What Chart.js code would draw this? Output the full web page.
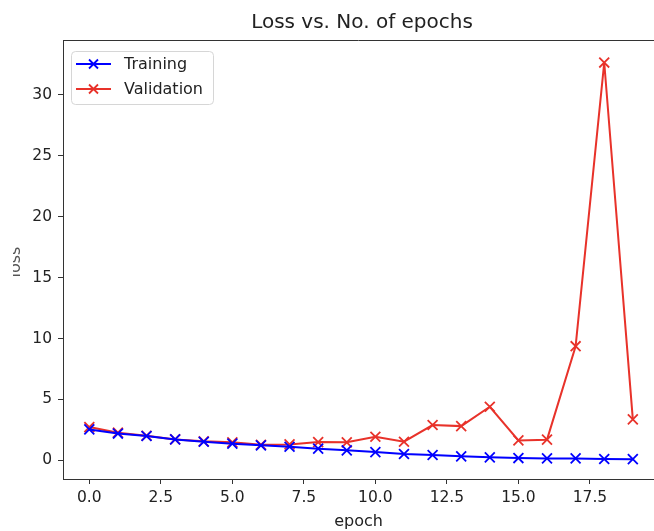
<!DOCTYPE html>
<html>
<head>
<meta charset="utf-8">
<script src="https://cdn.jsdelivr.net/npm/chart.js@4"></script>
<style>
  html, body { margin: 0; padding: 0; background: #fff; }
  #wrap { width: 654px; height: 531px; }
</style>
</head>
<body>
<div id="wrap"><canvas id="lossChart" width="654" height="531"></canvas></div>
<script>
// ================= DATA =================
const epochs = [0, 1, 2, 3, 4, 5, 6, 7, 8, 9, 10, 11, 12, 13, 14, 15, 16, 17, 18, 19];
const trainLoss = [2.54, 2.2, 2.0, 1.72, 1.53, 1.37, 1.23, 1.12, 0.96, 0.82, 0.68, 0.52, 0.44, 0.33, 0.25, 0.19, 0.16, 0.16, 0.11, 0.1];
const valLoss = [2.73, 2.27, 2.02, 1.72, 1.56, 1.48, 1.28, 1.31, 1.5, 1.48, 1.94, 1.53, 2.9, 2.81, 4.4, 1.64, 1.7, 9.37, 32.65, 3.36];
const xTicks = [0, 2.5, 5, 7.5, 10, 12.5, 15, 17.5];
const yTicks = [0, 5, 10, 15, 20, 25, 30];
const seriesNames = ['Training', 'Validation'];
const seriesColors = ['#0000ff', '#e8322a'];

const FONT = "'DejaVu Sans', sans-serif";
const TEXT = '#222';

function toPoints(ys) {
    return epochs.map((e, i) => ({ x: e, y: ys[i] }));
}

// ================= PLUGINS =================
// top spine, title, ylabel and legend like matplotlib (right side is cut off in the source)
const decor = {
    id: 'decor',
    afterDraw(chart) {
        const c = chart.ctx;
        const a = chart.chartArea;
        c.save();

        // top spine
        c.strokeStyle = '#333';
        c.lineWidth = 1;
        c.beginPath();
        c.moveTo(Math.round(a.left), Math.round(a.top) + 0.5);
        c.lineTo(a.right, Math.round(a.top) + 0.5);
        c.stroke();

        // title (centered on the full axes, which run past the right edge)
        c.fillStyle = TEXT;
        c.font = '20px ' + FONT;
        c.textAlign = 'center';
        c.textBaseline = 'middle';
        c.fillText('Loss vs. No. of epochs', a.left + 299, 23);

        // y label, only a sliver of it shows
        c.save();
        c.beginPath();
        c.rect(13, 200, 12, 120);
        c.clip();
        c.translate(20, 262);
        c.rotate(-Math.PI / 2);
        c.font = '16px ' + FONT;
        c.textAlign = 'center';
        c.textBaseline = 'alphabetic';
        c.fillStyle = '#555';
        c.fillText('loss', 0, 0);
        c.restore();

        // legend
        const lx = 71, ly = 51, lw = 142, lh = 53;
        c.fillStyle = 'rgba(255,255,255,0.8)';
        c.strokeStyle = '#d6d6d6';
        c.beginPath();
        c.roundRect(lx + 0.5, ly + 0.5, lw, lh, 4);
        c.fill();
        c.stroke();

        seriesNames.forEach((name, i) => {
            const y = 64 + i * 25;
            c.strokeStyle = seriesColors[i];
            c.lineWidth = 1.8;
            c.beginPath();
            c.moveTo(76, y);
            c.lineTo(111, y);
            c.stroke();
            const m = 4.5;
            c.beginPath();
            c.moveTo(93.5 - m, y - m); c.lineTo(93.5 + m, y + m);
            c.moveTo(93.5 - m, y + m); c.lineTo(93.5 + m, y - m);
            c.stroke();
            c.fillStyle = TEXT;
            c.font = '16px ' + FONT;
            c.textAlign = 'left';
            c.textBaseline = 'middle';
            c.fillText(name, 124, y + 1);
        });

        c.restore();
    }
};

// ================= CHART =================
new Chart(document.getElementById('lossChart'), {
    type: 'line',
    data: {
        datasets: [
            {
                label: seriesNames[0],
                data: toPoints(trainLoss),
                borderColor: seriesColors[0],
                backgroundColor: seriesColors[0],
                borderWidth: 2,
                pointStyle: 'crossRot',
                pointRadius: 7,
                pointBorderWidth: 1.8,
                tension: 0
            },
            {
                label: seriesNames[1],
                data: toPoints(valLoss),
                borderColor: seriesColors[1],
                backgroundColor: seriesColors[1],
                borderWidth: 2,
                pointStyle: 'crossRot',
                pointRadius: 7,
                pointBorderWidth: 1.8,
                tension: 0
            }
        ]
    },
    options: {
        responsive: false,
        animation: false,
        layout: { autoPadding: false, padding: { left: 0, right: 0, top: 40, bottom: 0 } },
        plugins: {
            legend: { display: false },
            title: { display: false },
            tooltip: { enabled: false }
        },
        scales: {
            x: {
                type: 'linear',
                min: -0.92,
                max: 19.74,
                afterFit: s => { s.height = 52; s.paddingRight = 0; s.paddingLeft = 0; },
                afterBuildTicks: s => { s.ticks = xTicks.map(v => ({ value: v })); },
                grid: { display: true, drawOnChartArea: false, drawTicks: true, tickLength: 5, color: '#333' },
                border: { display: true, color: '#333' },
                ticks: {
                    includeBounds: false,
                    padding: 5,
                    color: TEXT,
                    font: { family: FONT, size: 15.5 },
                    callback: v => v.toFixed(1)
                },
                title: {
                    display: true,
                    text: 'epoch',
                    color: TEXT,
                    font: { family: FONT, size: 16 },
                    padding: { top: 0, bottom: 0 }
                }
            },
            y: {
                type: 'linear',
                min: -1.53,
                max: 34.5,
                afterFit: s => { s.width = 63; s.paddingTop = 0; s.paddingBottom = 0; },
                afterBuildTicks: s => { s.ticks = yTicks.map(v => ({ value: v })); },
                grid: { display: true, drawOnChartArea: false, drawTicks: true, tickLength: 5, color: '#333' },
                border: { display: true, color: '#333' },
                ticks: {
                    includeBounds: false,
                    padding: 6,
                    color: TEXT,
                    font: { family: FONT, size: 15.5 },
                    callback: v => String(v)
                }
            }
        }
    },
    plugins: [decor]
});
</script>
</body>
</html>
